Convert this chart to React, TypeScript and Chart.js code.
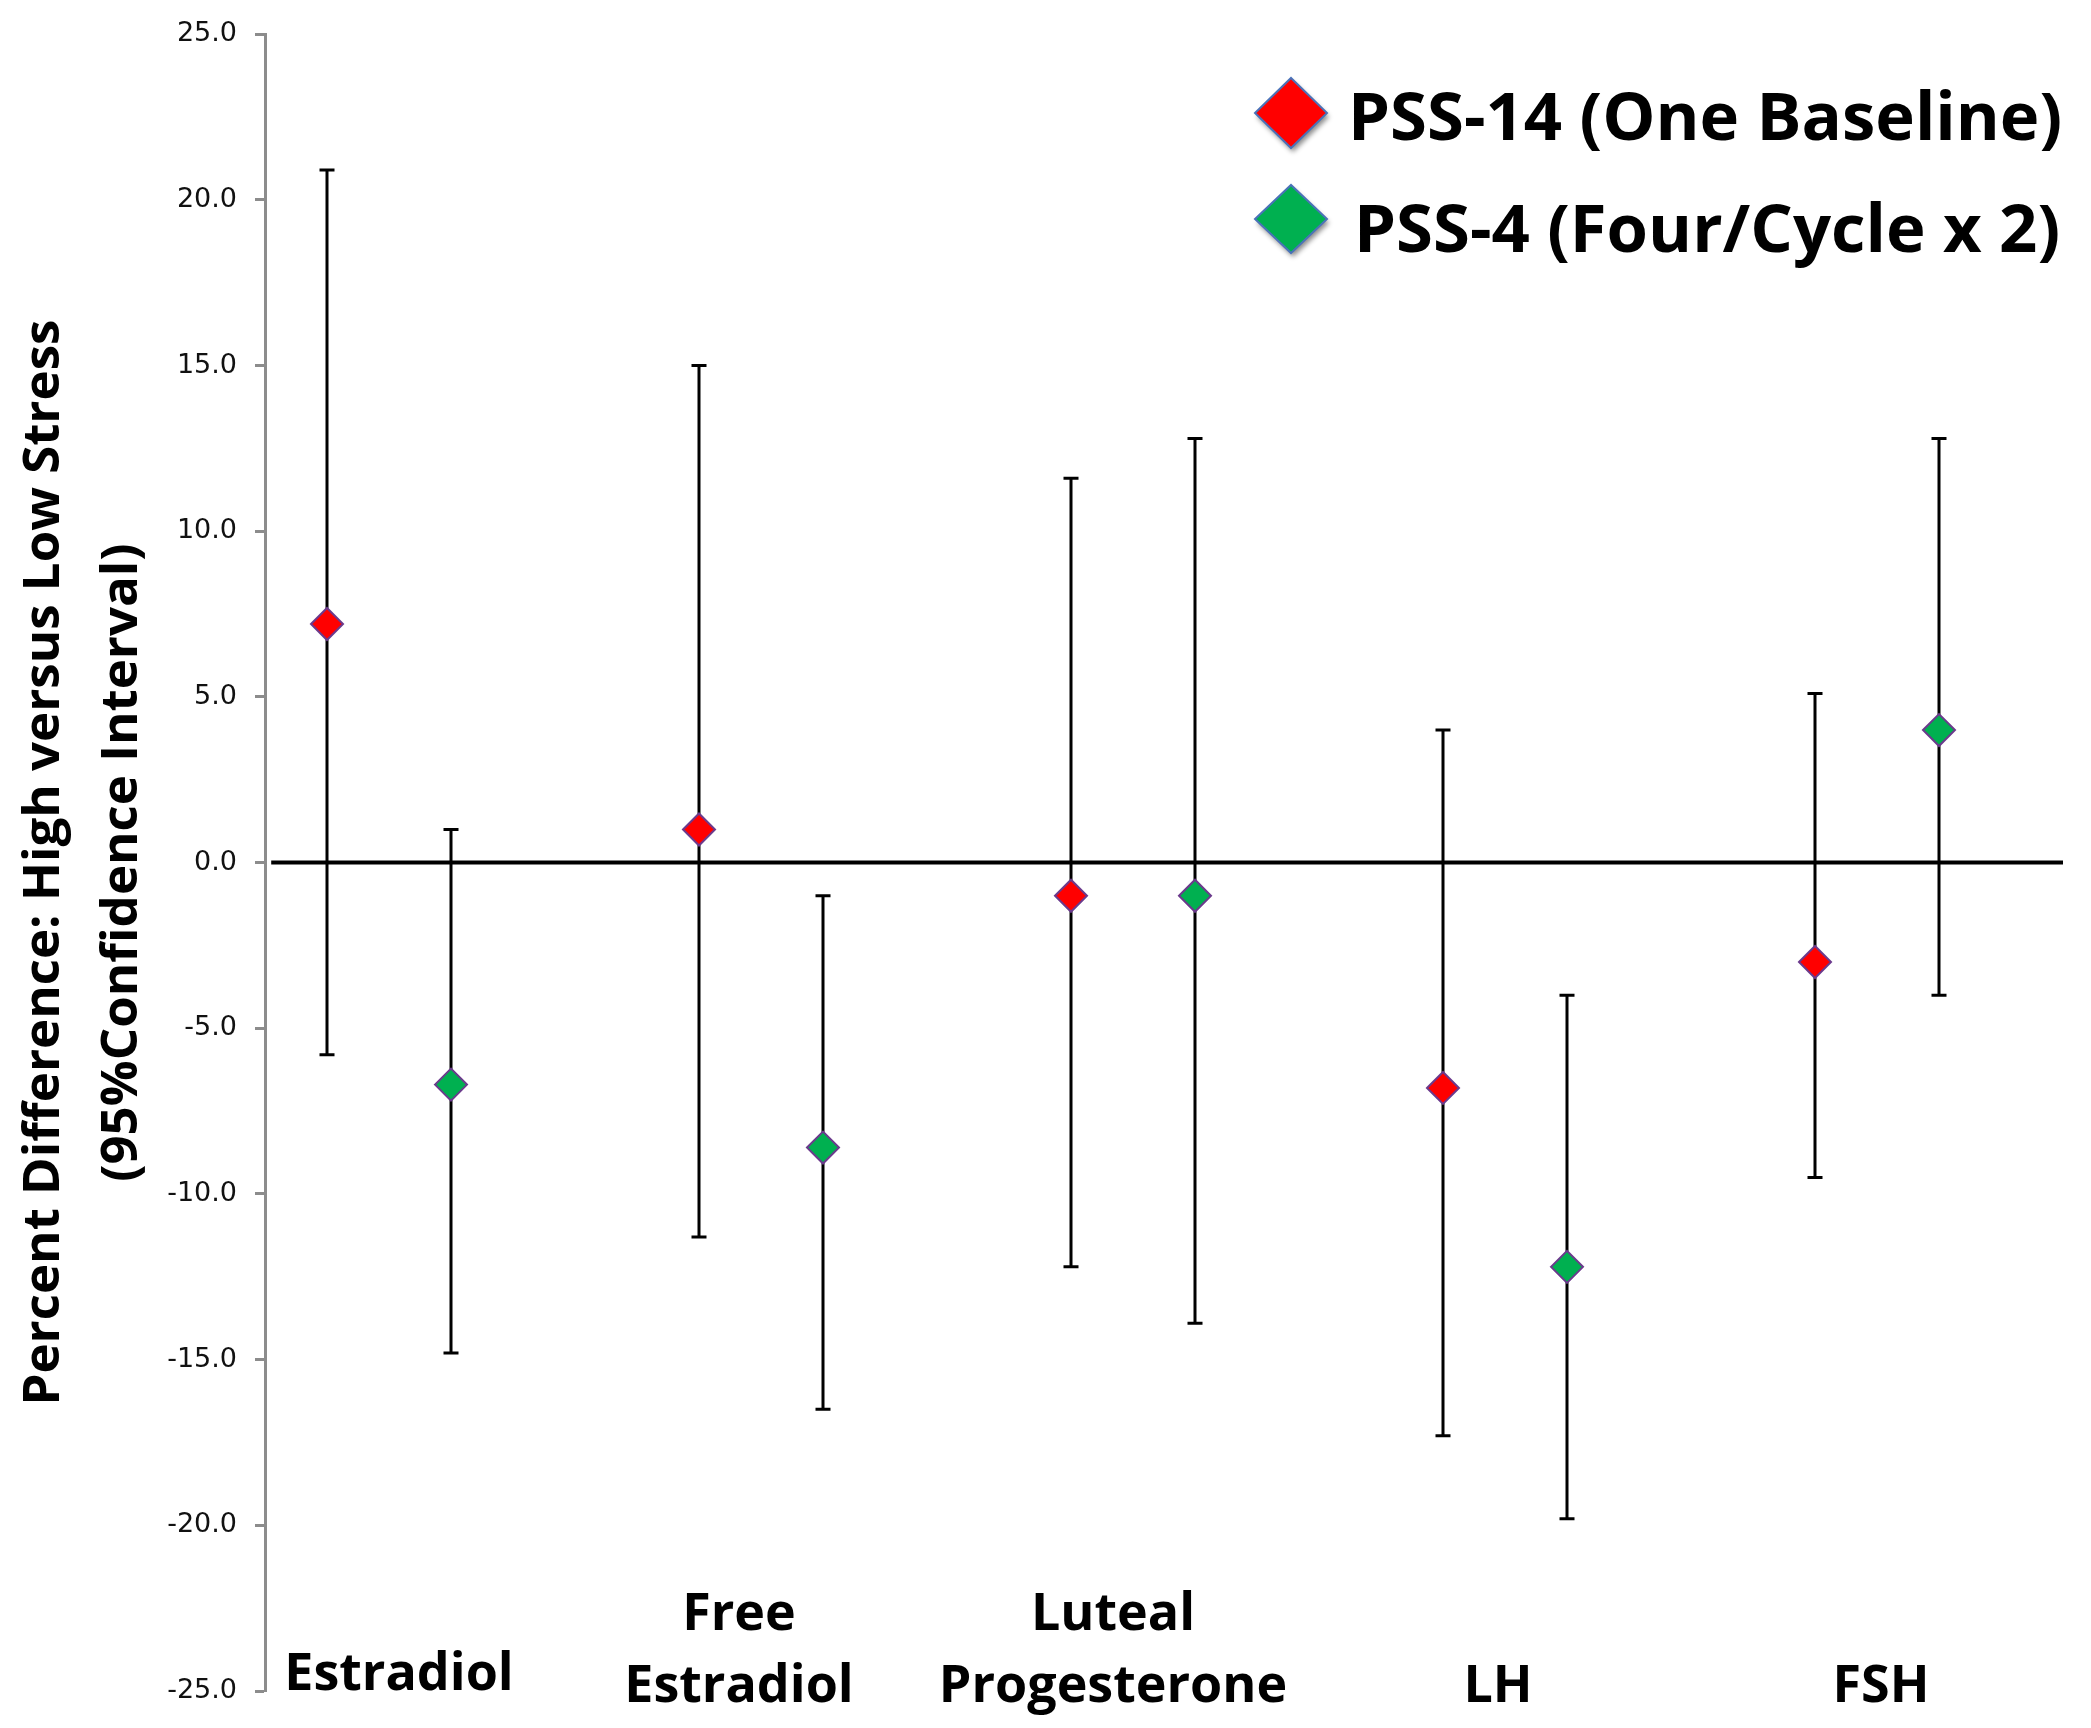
import React, { useEffect, useRef } from "react";
import { Chart, registerables } from "chart.js";

Chart.register(...registerables);

// ---- data ----
const categories: string[][] = [
  ["Estradiol"],
  ["Free", "Estradiol"],
  ["Luteal", "Progesterone"],
  ["LH"],
  ["FSH"],
];
const seriesNames = ["PSS-14 (One Baseline)", "PSS-4 (Four/Cycle x 2)"];

// x values of the two series (scatter positions, one pair per hormone)
const xPss14 = [1, 4, 7, 10, 13];
const xPss4 = [2, 5, 8, 11, 14];

const pss14Mean = [7.2, 1.0, -1.0, -6.8, -3.0];
const pss14Lower = [-5.8, -11.3, -12.2, -17.3, -9.5];
const pss14Upper = [20.9, 15.0, 11.6, 4.0, 5.1];

const pss4Mean = [-6.7, -8.6, -1.0, -12.2, 4.0];
const pss4Lower = [-14.8, -16.5, -13.9, -19.8, -4.0];
const pss4Upper = [1.0, -1.0, 12.8, -4.0, 12.8];

const zeroLineX = [0.55, 15];
const zeroLineY = [0, 0];

const yTicks = [-25, -20, -15, -10, -5, 0, 5, 10, 15, 20, 25];

const W = 2091;
const H = 1728;
const BOLD_FONT = "'Open Sans', 'Noto Sans', sans-serif";

const errorBarPlugin = {
  id: "errorBars",
  beforeDatasetsDraw(chart: any) {
    const { ctx, scales } = chart;
    const x = scales.x;
    const y = scales.y;
    const groups = [
      { xs: xPss14, lo: pss14Lower, hi: pss14Upper },
      { xs: xPss4, lo: pss4Lower, hi: pss4Upper },
    ];
    ctx.save();
    ctx.strokeStyle = "#000";
    ctx.lineWidth = 3;
    const cap = 7.5;
    groups.forEach((g) => {
      g.xs.forEach((xv, i) => {
        const px = x.getPixelForValue(xv);
        const pl = y.getPixelForValue(g.lo[i]);
        const ph = y.getPixelForValue(g.hi[i]);
        ctx.beginPath();
        ctx.moveTo(px, ph);
        ctx.lineTo(px, pl);
        ctx.moveTo(px - cap, ph);
        ctx.lineTo(px + cap, ph);
        ctx.moveTo(px - cap, pl);
        ctx.lineTo(px + cap, pl);
        ctx.stroke();
      });
    });
    ctx.restore();
  },
};

const categoryLabelPlugin = {
  id: "categoryLabels",
  afterDraw(chart: any, _args: any, opts: any) {
    const { ctx, scales, chartArea } = chart;
    const x = scales.x;
    ctx.save();
    ctx.fillStyle = "#000";
    ctx.font = `bold ${opts.fontSize}px ${BOLD_FONT}`;
    ctx.textAlign = "center";
    ctx.textBaseline = "alphabetic";
    categories.forEach((lines, i) => {
      const mid = (xPss14[i] + xPss4[i]) / 2;
      const px = x.getPixelForValue(mid) + opts.nudgeX[i];
      const lastBase = chartArea.bottom + opts.lastBaseline[i];
      lines.forEach((line, j) => {
        const yy = lastBase - (lines.length - 1 - j) * opts.lineSpacing;
        ctx.fillText(line, px, yy);
      });
    });
    ctx.restore();
  },
};

const legendPlugin = {
  id: "diamondLegend",
  afterDraw(chart: any, _args: any, opts: any) {
    const { ctx } = chart;
    const ds = chart.data.datasets.filter((d: any) => d.inLegend);
    ctx.save();
    ds.forEach((d: any, i: number) => {
      const it = opts.items[i];
      ctx.save();
      ctx.shadowColor = "rgba(0,0,0,0.45)";
      ctx.shadowBlur = 5;
      ctx.shadowOffsetX = 2;
      ctx.shadowOffsetY = 4;
      ctx.beginPath();
      ctx.moveTo(it.cx - it.hw, it.cy);
      ctx.lineTo(it.cx, it.cy - it.hh);
      ctx.lineTo(it.cx + it.hw, it.cy);
      ctx.lineTo(it.cx, it.cy + it.hh);
      ctx.closePath();
      ctx.fillStyle = d.backgroundColor;
      ctx.fill();
      ctx.restore();
      ctx.beginPath();
      ctx.moveTo(it.cx - it.hw, it.cy);
      ctx.lineTo(it.cx, it.cy - it.hh);
      ctx.lineTo(it.cx + it.hw, it.cy);
      ctx.lineTo(it.cx, it.cy + it.hh);
      ctx.closePath();
      ctx.strokeStyle = "#4A72B8";
      ctx.lineWidth = 2;
      ctx.stroke();
      ctx.fillStyle = "#000";
      ctx.font = `bold ${opts.fontSize}px ${BOLD_FONT}`;
      ctx.textAlign = "left";
      ctx.textBaseline = "alphabetic";
      ctx.fillText(d.label, it.tx, it.ty);
    });
    ctx.restore();
  },
};

export default function App() {
  const ref = useRef<HTMLCanvasElement | null>(null);

  useEffect(() => {
    document.body.style.margin = "0";
    const canvas = ref.current;
    if (!canvas) return;
    const chart = new Chart(canvas, {
      type: "scatter",
      data: {
        datasets: [
          {
            label: seriesNames[0],
            inLegend: true,
            data: xPss14.map((xv, i) => ({ x: xv, y: pss14Mean[i] })),
            pointStyle: "rectRot",
            pointRadius: 16,
            pointHoverRadius: 16,
            backgroundColor: "#FF0000",
            borderColor: "#6B3A8C",
            pointBorderWidth: 2,
            showLine: false,
            order: 1,
          } as any,
          {
            label: seriesNames[1],
            inLegend: true,
            data: xPss4.map((xv, i) => ({ x: xv, y: pss4Mean[i] })),
            pointStyle: "rectRot",
            pointRadius: 16,
            pointHoverRadius: 16,
            backgroundColor: "#00B050",
            borderColor: "#6B3A8C",
            pointBorderWidth: 2,
            showLine: false,
            order: 1,
          } as any,
          {
            type: "line",
            label: "zero",
            data: zeroLineX.map((xv, i) => ({ x: xv, y: zeroLineY[i] })),
            borderColor: "#000",
            borderWidth: 4,
            pointRadius: 0,
            fill: false,
            order: 3,
          } as any,
        ],
      },
      options: {
        responsive: false,
        animation: false,
        devicePixelRatio: 1,
        layout: { padding: { top: 32, bottom: 37, right: 28, left: 0 } },
        plugins: {
          legend: { display: false },
          tooltip: { enabled: false },
          categoryLabels: {
            fontSize: 52,
            lineSpacing: 72,
            nudgeX: [10, -22, -20, -7, 4],
            lastBaseline: [-1, 11, 11, 11, 11],
          },
          diamondLegend: {
            fontSize: 67,
            items: [
              { cx: 1291, cy: 113, hw: 36, hh: 35, tx: 1348, ty: 140 },
              { cx: 1291, cy: 219, hw: 36, hh: 34, tx: 1354, ty: 252 },
            ],
          },
        } as any,
        scales: {
          x: {
            type: "linear",
            min: 0.5,
            max: 15,
            display: false,
          },
          y: {
            type: "linear",
            min: -25,
            max: 25,
            afterFit: (scale: any) => {
              scale.width = 265;
            },
            afterBuildTicks: (scale: any) => {
              scale.ticks = yTicks.map((v) => ({ value: v }));
            },
            ticks: {
              stepSize: 5,
              padding: 18,
              color: "#111",
              font: { family: "'DejaVu Sans', sans-serif", size: 27 },
              callback: (v: any) => Number(v).toFixed(1),
            },
            grid: {
              drawOnChartArea: false,
              drawTicks: true,
              tickLength: 10,
              tickColor: "#8c8c8c",
              tickWidth: 3,
            },
            border: { display: true, color: "#8c8c8c", width: 3 },
            title: {
              display: true,
              text: ["Percent Difference: High versus Low Stress", "(95%Confidence Interval)"],
              color: "#000",
              font: { family: BOLD_FONT, size: 51, weight: "bold", lineHeight: 1.53 },
              padding: { top: 5, bottom: 0 },
            },
          },
        },
      },
      plugins: [errorBarPlugin, categoryLabelPlugin, legendPlugin],
    });
    return () => chart.destroy();
  }, []);

  return (
    <div style={{ width: W, height: H, background: "#fff" }}>
      <canvas ref={ref} width={W} height={H} style={{ display: "block" }} />
    </div>
  );
}
